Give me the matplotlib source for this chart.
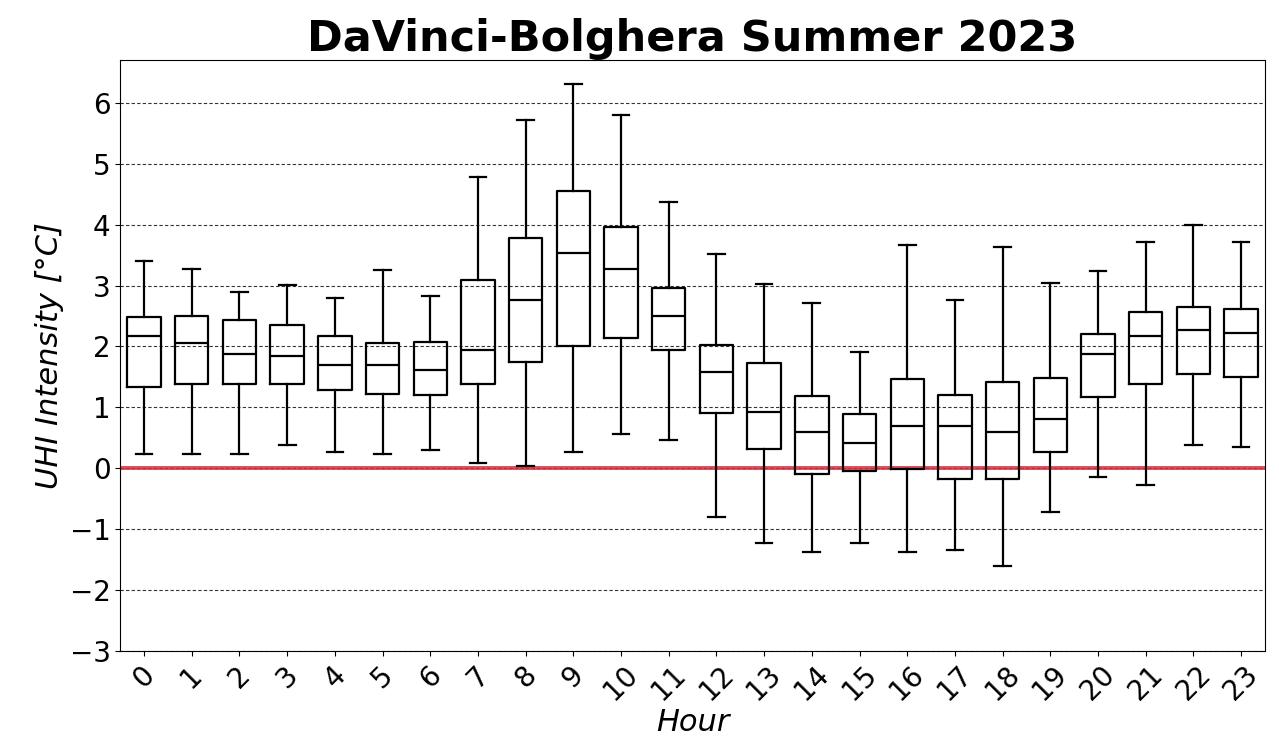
import matplotlib
matplotlib.use("Agg")
import matplotlib.pyplot as plt
from matplotlib.ticker import MultipleLocator

# hourly UHI intensity box statistics
hours = list(range(24))
whis_lo = [0.23, 0.23, 0.23, 0.38, 0.27, 0.23, 0.30, 0.09, 0.04, 0.27, 0.56, 0.47,
           -0.80, -1.23, -1.38, -1.23, -1.38, -1.35, -1.61, -0.72, -0.14, -0.28, 0.38, 0.35]
q1 = [1.34, 1.39, 1.39, 1.39, 1.29, 1.22, 1.20, 1.39, 1.75, 2.00, 2.14, 1.95,
      0.90, 0.31, -0.09, -0.04, -0.02, -0.17, -0.17, 0.27, 1.17, 1.39, 1.55, 1.50]
median = [2.18, 2.05, 1.88, 1.84, 1.70, 1.70, 1.61, 1.95, 2.76, 3.53, 3.28, 2.50,
          1.58, 0.92, 0.59, 0.41, 0.69, 0.70, 0.60, 0.81, 1.87, 2.17, 2.27, 2.22]
q3 = [2.49, 2.50, 2.44, 2.35, 2.18, 2.05, 2.08, 3.10, 3.78, 4.56, 3.97, 2.96,
      2.02, 1.73, 1.19, 0.89, 1.47, 1.21, 1.41, 1.49, 2.21, 2.56, 2.65, 2.61]
whis_hi = [3.40, 3.28, 2.89, 3.01, 2.80, 3.25, 2.83, 4.78, 5.72, 6.32, 5.80, 4.37,
           3.52, 3.02, 2.72, 1.91, 3.66, 2.77, 3.63, 3.04, 3.24, 3.72, 4.00, 3.72]

stats = []
for i in range(len(hours)):
    stats.append({'label': str(hours[i]), 'whislo': whis_lo[i], 'q1': q1[i],
                  'med': median[i], 'q3': q3[i], 'whishi': whis_hi[i]})

fig = plt.figure(figsize=(12.79, 7.55), dpi=100)
ax = fig.add_axes([0.094, 0.138, 0.895, 0.782])

lw = 1.6
ax.bxp(stats, positions=hours, widths=0.7, showfliers=False,
       boxprops=dict(color='black', linewidth=lw),
       whiskerprops=dict(color='black', linewidth=lw),
       capprops=dict(color='black', linewidth=lw),
       medianprops=dict(color='black', linewidth=lw))

# zero line, above the grid but under the boxes
ax.axhline(0, color='#d62d3a', linewidth=2.8, alpha=0.85, zorder=1.5)

ax.set_ylim(-3, 6.7)
ax.set_xlim(-0.5, 23.5)
ax.yaxis.set_major_locator(MultipleLocator(1))
ax.yaxis.grid(True, linestyle=(0, (3, 2)), color='black', linewidth=0.8, alpha=0.8)
ax.set_axisbelow(True)

ax.set_title('DaVinci-Bolghera Summer 2023', fontsize=31, fontweight='bold')
ax.set_xlabel('Hour', fontsize=22, fontstyle='italic', labelpad=2)
ax.set_ylabel('UHI Intensity [°C]', fontsize=22, fontstyle='italic')
ax.tick_params(axis='both', labelsize=20)
plt.setp(ax.get_xticklabels(), rotation=45)

fig.savefig('out.png', dpi=100)
